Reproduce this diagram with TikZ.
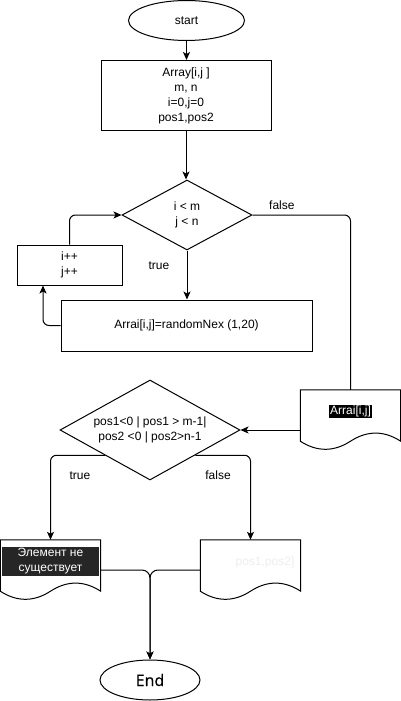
\documentclass[tikz,border=0pt]{standalone}
\usepackage{fontspec}
\setmainfont{Liberation Sans}
\newfontface\endfont{Open Sans}[FakeBold=0.8]
\usetikzlibrary{shapes.geometric,arrows.meta,calc}

\definecolor{hldark}{HTML}{262626}
\definecolor{faint}{HTML}{EEEEEE}

% document symbol: a box whose lower edge is a wave
\newcommand{\docshape}[1]{%
  \draw[line, fill=white] (#1.north west) -- (#1.north east)
    -- ($(#1.south east)+(0,-9)$)
    .. controls +(-16.67,-10.8) and +(16.67,-10.8) .. ($(#1.south)+(0,-9)$)
    .. controls +(-16.67,10.8) and +(16.67,10.8) .. ($(#1.south west)+(0,-9)$)
    -- cycle;}

\begin{document}
\begin{tikzpicture}[x=1pt, y=-1pt,
  txt/.style={font=\fontsize{12}{15}\selectfont, align=center},
  line/.style={draw=black, line width=1pt},
  arr/.style={line, -{Stealth[length=8pt, width=7pt, inset=2pt]}},
  base/.style={line, txt, inner sep=0pt, fill=white},
  term/.style={base, ellipse},
  proc/.style={base, rectangle},
  cond/.style={base, diamond, shape aspect=1.8},
  docbox/.style={rectangle, inner sep=0pt, minimum width=100pt, minimum height=60pt},
  lbl/.style={txt, inner sep=0pt}]

\useasboundingbox[fill=white] (0,0) rectangle (401,701);

% blocks
\node[term, minimum width=116pt, minimum height=40pt] (start) at (186.5,20.5) {start};
\node[proc, minimum width=170pt, minimum height=70pt] (init) at (186,95.5)
  {Array[i,j ]\\m, n\\i=0,j=0\\pos1,pos2};
\node[cond, minimum width=130pt, minimum height=70pt] (c1) at (187,215) {i < m\\j < n};
\node[proc, minimum width=251pt, minimum height=51pt] (gen) at (186.5,325.5)
  {Arrai[i,j]=randomNex (1,20)};
\node[proc, minimum width=105pt, minimum height=40pt] (inc) at (69.5,265) {i++\\j++};

\node[docbox] (docA) at (350.5,420) {};
\docshape{docA}
\node[lbl, fill=black, text=white, inner xsep=0.8pt, inner ysep=1pt] (docAtxt)
  at ([yshift=8.5pt]docA.center) {Arrai[i,j]};

\node[cond, minimum width=180pt, minimum height=100pt] (c2) at (150,430)
  {pos1<0 | pos1 > m-1|\\pos2 <0 | pos2>n-1};

\node[docbox] (docT) at (50.5,570) {};
\docshape{docT}
\node[lbl, fill=hldark, text=white, minimum width=97pt, minimum height=29pt] (docTtxt)
  at ([yshift=8.5pt]docT.center) {Элемент не\\существует};

\node[docbox] (docF) at (250.5,570) {};
\docshape{docF}
\node[lbl, text=faint] (docFtxt) at ([xshift=14.5pt, yshift=8pt]docF.center) {pos1,pos2]};

\node[term, minimum width=100pt, minimum height=40pt, font=\endfont\fontsize{16}{19}\selectfont] (end) at (150,680) {End};

% connectors
\draw[arr] (start.south) -- (start.south |- init.north);
\draw[arr] (init.south) -- (init.south |- c1.north);
\draw[arr] (c1.south) -- node[lbl, pos=0.3, xshift=-28pt] {true} (c1.south |- gen.north);
\draw[line, rounded corners=6pt] (c1.east) -| node[lbl, pos=0.15, yshift=10pt] {false} (docA.north);
\draw[arr, rounded corners=6pt] (gen.west) -| ($(inc.south west)!0.25!(inc.south east)$);
\draw[arr, rounded corners=6pt] (inc.north) |- (c1.west);
\draw[arr] (c2.east -| docA.west) -- (c2.east);
\draw[arr, rounded corners=6pt] (c2.south west) -| node[lbl, pos=0.62, xshift=29.5pt] {true} (docT.north);
\draw[arr, rounded corners=6pt] (c2.south east) -| node[lbl, pos=0.62, xshift=-32.5pt] {false} (docF.north);
\draw[arr, rounded corners=8pt] (docT.east) -| (end.north);
\draw[arr, rounded corners=8pt] (docF.west) -| (end.north);

\end{tikzpicture}
\end{document}
